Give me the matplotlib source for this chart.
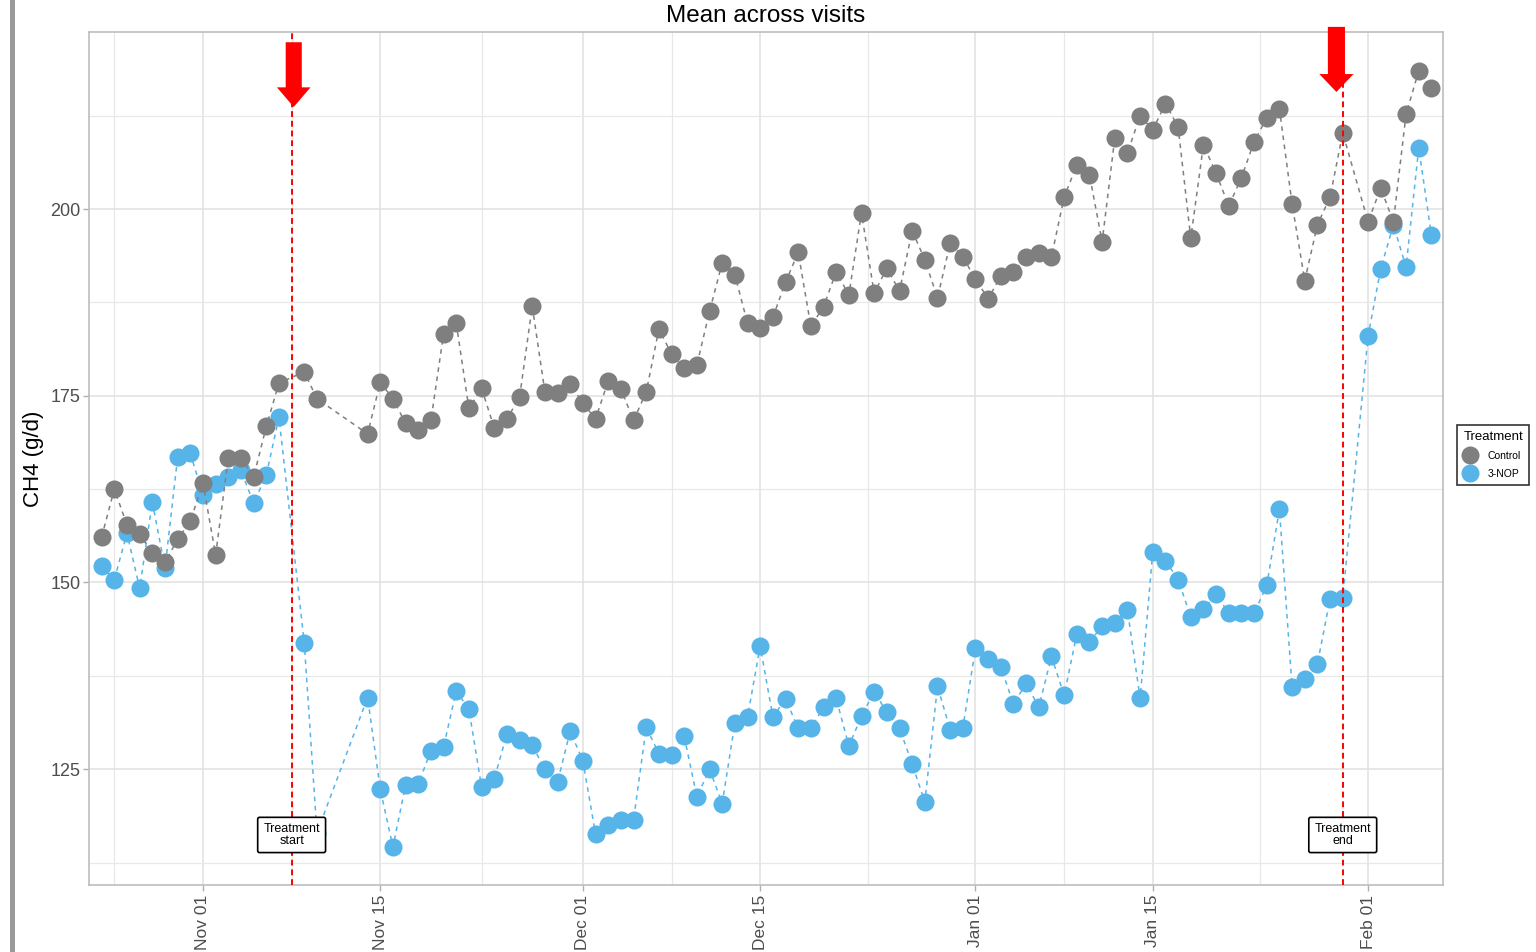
import matplotlib
matplotlib.use("Agg")
import matplotlib.pyplot as plt
import matplotlib.dates as mdates
import matplotlib.patches as mpatches
import matplotlib.transforms as mtransforms
from matplotlib.lines import Line2D
import numpy as np
import pandas as pd

plt.rcParams['font.family'] = ['Liberation Sans', 'DejaVu Sans']

# ---------------- data ----------------
# observation dates (daily visits, with gaps)
dates = list(pd.date_range("2021-10-24", "2021-11-07")) + \
        [pd.Timestamp("2021-11-09"), pd.Timestamp("2021-11-10")] + \
        list(pd.date_range("2021-11-14", "2022-01-30")) + \
        list(pd.date_range("2022-02-01", "2022-02-06"))

control = [
    # Oct 24 - Nov 07
    156.1, 162.5, 157.7, 156.5, 153.9, 152.7, 155.8, 158.2, 163.3, 153.7,
    166.7, 166.7, 164.1, 170.9, 176.7,
    # Nov 09, Nov 10
    178.2, 174.6,
    # Nov 14 - Nov 30
    169.9, 176.8, 174.6, 171.3, 170.4, 171.7, 183.3, 184.7, 173.3, 176.0,
    170.7, 171.9, 174.8, 187.0, 175.5, 175.4, 176.6,
    # Dec
    174.0, 171.9, 177.0, 175.9, 171.7, 175.5, 183.9, 180.6, 178.7, 179.1,
    186.3, 192.8, 191.2, 184.7, 184.1, 185.5, 190.2, 194.2, 184.3, 186.9,
    191.6, 188.5, 199.5, 188.7, 192.1, 189.0, 197.1, 193.2, 188.1, 195.4,
    193.6,
    # Jan 01 - Jan 30
    190.6, 188.0, 191.0, 191.6, 193.6, 194.1, 193.6, 201.6, 205.9, 204.6,
    195.6, 209.5, 207.5, 212.5, 210.6, 214.1, 211.0, 196.1, 208.6, 204.8,
    200.4, 204.2, 209.0, 212.2, 213.4, 200.7, 190.4, 197.9, 201.6, 210.2,
    # Feb 01 - Feb 06
    198.3, 202.8, 198.3, 212.7, 218.5, 216.2,
]

nop = [
    # Oct 24 - Nov 07
    152.2, 150.4, 156.6, 149.2, 160.8, 151.9, 166.8, 167.3, 161.7, 163.2,
    164.1, 165.0, 160.6, 164.4, 172.1,
    # Nov 09, Nov 10
    141.9, 116.5,
    # Nov 14 - Nov 30
    134.6, 122.3, 114.6, 122.9, 123.0, 127.5, 128.0, 135.5, 133.0, 122.6,
    123.7, 129.7, 128.9, 128.2, 125.0, 123.3, 130.1,
    # Dec
    126.1, 116.3, 117.5, 118.2, 118.2, 130.6, 127.1, 126.9, 129.4, 121.3,
    125.0, 120.4, 131.2, 132.0, 141.5, 132.0, 134.4, 130.5, 130.5, 133.3,
    134.5, 128.1, 132.1, 135.4, 132.6, 130.5, 125.7, 120.6, 136.1, 130.3,
    130.5,
    # Jan 01 - Jan 30
    141.2, 139.7, 138.7, 133.7, 136.5, 133.3, 140.1, 134.9, 143.1, 142.0,
    144.2, 144.6, 146.3, 134.5, 154.1, 152.9, 150.4, 145.4, 146.4, 148.4,
    145.9, 145.9, 145.9, 149.6, 159.8, 136.0, 137.1, 139.1, 147.8, 147.9,
    # Feb 01 - Feb 06
    183.0, 192.0, 197.9, 192.2, 208.2, 196.5,
]

treatment_names = ["Control", "3-NOP"]
treatment_colors = ["#7f7f7f", "#56b4e9"]

event_dates = [pd.Timestamp("2021-11-08"), pd.Timestamp("2022-01-30")]
event_labels = ["Treatment\nstart", "Treatment\nend"]
event_label_y = 116.2

x_major = pd.to_datetime(["2021-11-01", "2021-11-15", "2021-12-01", "2021-12-15",
                          "2022-01-01", "2022-01-15", "2022-02-01"])
x_minor = pd.to_datetime(["2021-10-25 00:00", "2021-11-08 00:00", "2021-11-23 00:00",
                          "2021-12-08 00:00", "2021-12-23 12:00", "2022-01-08 00:00",
                          "2022-01-23 12:00"], format="%Y-%m-%d %H:%M")
y_major = [125, 150, 175, 200]
y_minor = [112.5, 137.5, 162.5, 187.5, 212.5]

# ---------------- figure ----------------
W, H = 1536, 952
fig = plt.figure(figsize=(W / 100, H / 100), dpi=100)
ax = fig.add_axes([89 / W, 1 - 885 / H, (1443 - 89) / W, (885 - 32) / H])

xd = mdates.date2num(dates)

# series: 3-NOP below, Control on top
for vals, col, z in [(nop, treatment_colors[1], 3), (control, treatment_colors[0], 4)]:
    ax.plot(xd, vals, color=col, ls=(0, (3, 3)), lw=1.1, zorder=z)
    ax.plot(xd, vals, ls='none', marker='o', ms=13, mew=0, color=col, zorder=z + 0.5)

# red vertical lines
for d in event_dates:
    ax.axvline(mdates.date2num(d), color='red', ls=(0, (3, 2)), lw=1.4, zorder=6)

# labels
for d, lab in zip(event_dates, event_labels):
    ax.text(mdates.date2num(d), event_label_y, lab, ha='center', va='center',
            fontsize=9, linespacing=1.0, zorder=8,
            bbox=dict(boxstyle='round,pad=0.45,rounding_size=0.15', fc='white',
                      ec='black', lw=1.2))

# arrows (x in data, y in axes fraction)
trans = mtransforms.blended_transform_factory(ax.transData, ax.transAxes)
arrow_specs = [
    (mdates.date2num(pd.Timestamp("2021-11-08 04:00")), 0.988, 0.9121, 1.27, 2.65, 0.023),
    (mdates.date2num(pd.Timestamp("2022-01-29 12:00")), 1.006, 0.9297, 1.35, 2.7, 0.021),
]
for x0, ytop, ytip, w, hw, hl in arrow_specs:
    arr = mpatches.FancyArrow(x0, ytop, 0, ytip - ytop, width=w, head_width=hw,
                              head_length=hl, length_includes_head=True,
                              transform=trans, color='#ff0000', lw=0,
                              clip_on=False, zorder=9)
    ax.add_patch(arr)

# axes limits / ticks
ax.set_xlim(mdates.date2num(pd.Timestamp("2021-10-23")),
            mdates.date2num(pd.Timestamp("2022-02-06 22:00")))
ax.set_ylim(109.5, 223.7)
ax.set_xticks(mdates.date2num(x_major))
ax.xaxis.set_major_formatter(mdates.DateFormatter("%b %d"))
ax.set_xticks(mdates.date2num(x_minor), minor=True)
ax.set_yticks(y_major)
ax.set_yticks(y_minor, minor=True)

ax.grid(True, which='major', color='#e0e0e0', lw=1.1, zorder=0)
ax.grid(True, which='minor', color='#e8e8e8', lw=0.9, zorder=0)
ax.set_axisbelow(True)
ax.tick_params(axis='both', which='major', length=4, width=1, color='#b0b0b0',
               labelcolor='#4d4d4d')
ax.tick_params(axis='both', which='minor', length=0)
ax.tick_params(axis='y', labelsize=13, pad=2)
ax.tick_params(axis='x', labelsize=12.5, pad=3, labelrotation=90)
for sp in ax.spines.values():
    sp.set_color('#bdbdbd')
    sp.set_linewidth(1.2)

ax.set_title("Mean across visits", fontsize=17.5, pad=7, color='black')
ax.set_ylabel("CH4 (g/d)", fontsize=16, color='black')
ax.yaxis.set_label_coords(-0.033, 0.5)

# legend
handles = [Line2D([], [], ls='none', marker='o', ms=13, mew=0, color=c)
           for c in treatment_colors]
leg = fig.legend(handles, treatment_names, title="Treatment", loc='upper left',
                 bbox_to_anchor=(1457 / W, 1 - 425 / H), fontsize=7.5,
                 title_fontsize=9.5, frameon=True, fancybox=False, edgecolor='black',
                 handlelength=1.3, handletextpad=1.0, borderpad=0.6,
                 labelspacing=0.75, borderaxespad=0)
leg.get_frame().set_linewidth(1.2)
leg._legend_box.align = "left"

# left gray border strip from screenshot
fig.add_artist(mpatches.Rectangle((10 / W, 0), 5 / W, 1, transform=fig.transFigure,
                                  color='#9a9a9a', lw=0))

fig.savefig("out.png", dpi=100)
